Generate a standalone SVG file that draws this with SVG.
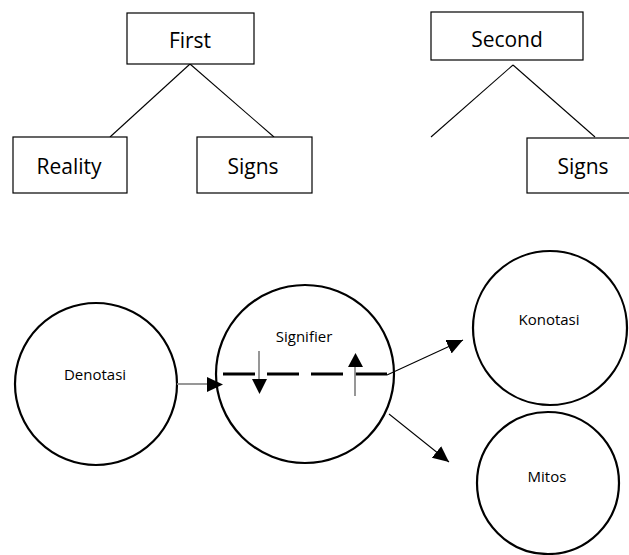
<svg xmlns="http://www.w3.org/2000/svg" width="629" height="555" viewBox="0 0 629 555">
<style>
.box{fill:#fff;stroke:#000;stroke-width:1.2}
.circ{fill:#fff;stroke:#000;stroke-width:2.2}
.big{font-family:"Open Sans","Noto Sans",sans-serif;font-size:21px;fill:#000;text-anchor:middle}
.small{font-family:"Open Sans","Noto Sans",sans-serif;font-size:15px;fill:#000;text-anchor:middle}
.ln{stroke:#000;stroke-width:1.1;fill:none}
.gray{stroke:#8c8c8c;stroke-width:1.8;fill:none}
</style>
<defs>
<marker id="ah" markerUnits="userSpaceOnUse" markerWidth="18" markerHeight="16" refX="16" refY="7.5" orient="auto">
<path d="M0,0 L16,7.5 L0,15 Z" fill="#000"/>
</marker>
</defs>
<g id="connectors">
<line class="ln" x1="190" y1="64" x2="110" y2="137"/>
<line class="ln" x1="190" y1="64" x2="274" y2="137"/>
<line class="ln" x1="513" y1="65" x2="431" y2="137"/>
<line class="ln" x1="513" y1="65" x2="595" y2="137"/>
</g>
<g id="first"><rect class="box" x="127" y="13" width="127" height="51"/><text class="big" x="190" y="48">First</text></g>
<g id="reality"><rect class="box" x="13" y="137" width="114" height="56"/><text class="big" x="69" y="174">Reality</text></g>
<g id="signs1"><rect class="box" x="197" y="137" width="115" height="56"/><text class="big" x="253" y="174">Signs</text></g>
<g id="second"><rect class="box" x="431" y="12" width="152" height="48"/><text class="big" x="507" y="47">Second</text></g>
<g id="signs2"><rect class="box" x="527" y="138" width="110" height="55"/><text class="big" x="583" y="174">Signs</text></g>
<g id="denotasi"><circle class="circ" cx="96" cy="384" r="81"/><text class="small" x="95" y="380">Denotasi</text></g>
<g id="signifier"><circle class="circ" cx="305" cy="374" r="89"/><text class="small" x="304" y="342">Signifier</text></g>
<g id="konotasi"><circle class="circ" cx="550" cy="328" r="77"/><text class="small" x="549" y="325">Konotasi</text></g>
<g id="mitos"><circle class="circ" cx="548" cy="483" r="71"/><text class="small" x="547" y="482">Mitos</text></g>
<g id="arrows">
<line class="gray" x1="177" y1="384" x2="208" y2="384"/>
<path d="M207,377 L223,384.5 L207,392 Z" fill="#000"/>
<line x1="223" y1="374" x2="387" y2="374" stroke="#000" stroke-width="3.2" stroke-dasharray="32 12"/>
<line class="gray" x1="259" y1="351" x2="259" y2="381"/>
<path d="M252,379 L267,379 L259.5,394 Z" fill="#000"/>
<line class="gray" x1="355" y1="396" x2="355" y2="365"/>
<path d="M348,367 L363,367 L355.5,353 Z" fill="#000"/>
<line class="ln" x1="387" y1="375" x2="463" y2="340" marker-end="url(#ah)"/>
<line class="ln" x1="389" y1="414" x2="449" y2="462" marker-end="url(#ah)"/>
</g>
</svg>
